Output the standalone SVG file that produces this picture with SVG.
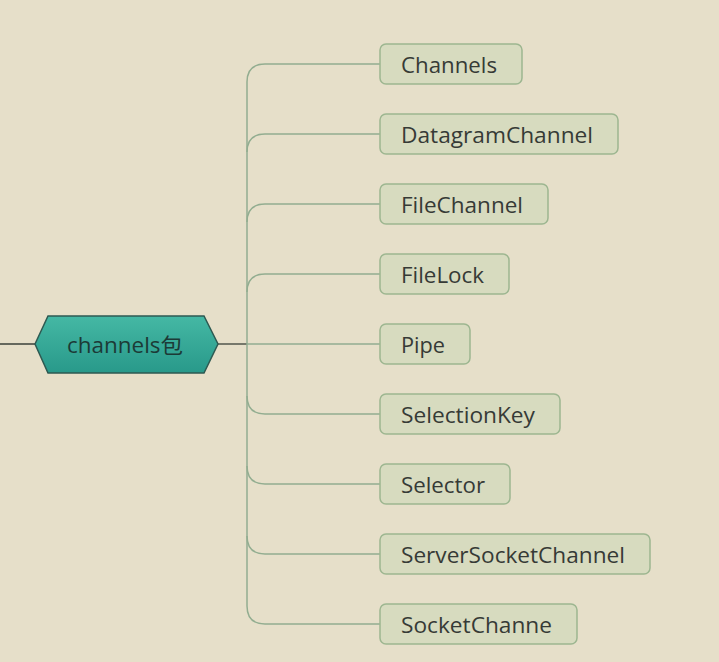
<svg xmlns="http://www.w3.org/2000/svg" width="719" height="662" viewBox="0 0 719 662">
<defs>
<linearGradient id="hexg" x1="0" y1="0" x2="0" y2="1">
<stop offset="0" stop-color="#45b8a4"/>
<stop offset="1" stop-color="#28998a"/>
</linearGradient>
<style>
.box{fill:#d7dbbf;stroke:#9db690;stroke-width:1.5}
.lbl{font-family:"Open Sans","DejaVu Sans",sans-serif;font-size:22px;fill:#363a36}
.con{fill:none;stroke:#92ad90;stroke-width:1.5}
.dark{fill:none;stroke:#3a4038;stroke-width:1.3}
</style>
</defs>
<rect width="719" height="662" fill="#e6dfc9"/>
<g id="connectors">
<path class="dark" d="M0,344 L35,344"/>
<path class="dark" d="M218,344 L247,344"/>
<path class="con" d="M247,344 L380,344"/>
<path class="con" d="M247,100 L247,590"/>
<path class="con" d="M247,100 L247,82 Q247,64 265,64 L380,64"/>
<path class="con" d="M247,152 Q247,134 265,134 L380,134"/>
<path class="con" d="M247,222 Q247,204 265,204 L380,204"/>
<path class="con" d="M247,292 Q247,274 265,274 L380,274"/>
<path class="con" d="M247,396 Q247,414 265,414 L380,414"/>
<path class="con" d="M247,466 Q247,484 265,484 L380,484"/>
<path class="con" d="M247,536 Q247,554 265,554 L380,554"/>
<path class="con" d="M247,590 L247,606 Q247,624 265,624 L380,624"/>
</g>
<g id="root">
<polygon points="35,344 48,316 204,316 218,344 204,373 48,373" fill="url(#hexg)" stroke="#2e5a52" stroke-width="1.5"/>
<text x="67" y="353" font-family="'Open Sans','Noto Sans CJK SC',sans-serif" font-size="21" fill="#1c3a36" textLength="116" lengthAdjust="spacingAndGlyphs">channels包</text>
</g>
<g id="n-channels"><rect class="box" x="380" y="44" width="142" height="40" rx="6"/><text class="lbl" x="401" y="73" textLength="96" lengthAdjust="spacingAndGlyphs">Channels</text></g>
<g id="n-datagram"><rect class="box" x="380" y="114" width="238" height="40" rx="6"/><text class="lbl" x="401" y="143" textLength="192" lengthAdjust="spacingAndGlyphs">DatagramChannel</text></g>
<g id="n-filechannel"><rect class="box" x="380" y="184" width="168" height="40" rx="6"/><text class="lbl" x="401" y="213" textLength="122" lengthAdjust="spacingAndGlyphs">FileChannel</text></g>
<g id="n-filelock"><rect class="box" x="380" y="254" width="129" height="40" rx="6"/><text class="lbl" x="401" y="283" textLength="83" lengthAdjust="spacingAndGlyphs">FileLock</text></g>
<g id="n-pipe"><rect class="box" x="380" y="324" width="90" height="40" rx="6"/><text class="lbl" x="401" y="353" textLength="44" lengthAdjust="spacingAndGlyphs">Pipe</text></g>
<g id="n-selectionkey"><rect class="box" x="380" y="394" width="180" height="40" rx="6"/><text class="lbl" x="401" y="423" textLength="134" lengthAdjust="spacingAndGlyphs">SelectionKey</text></g>
<g id="n-selector"><rect class="box" x="380" y="464" width="130" height="40" rx="6"/><text class="lbl" x="401" y="493" textLength="84" lengthAdjust="spacingAndGlyphs">Selector</text></g>
<g id="n-serversocket"><rect class="box" x="380" y="534" width="270" height="40" rx="6"/><text class="lbl" x="401" y="563" textLength="224" lengthAdjust="spacingAndGlyphs">ServerSocketChannel</text></g>
<g id="n-socketchanne"><rect class="box" x="380" y="604" width="197" height="40" rx="6"/><text class="lbl" x="401" y="633" textLength="151" lengthAdjust="spacingAndGlyphs">SocketChanne</text></g>
</svg>
